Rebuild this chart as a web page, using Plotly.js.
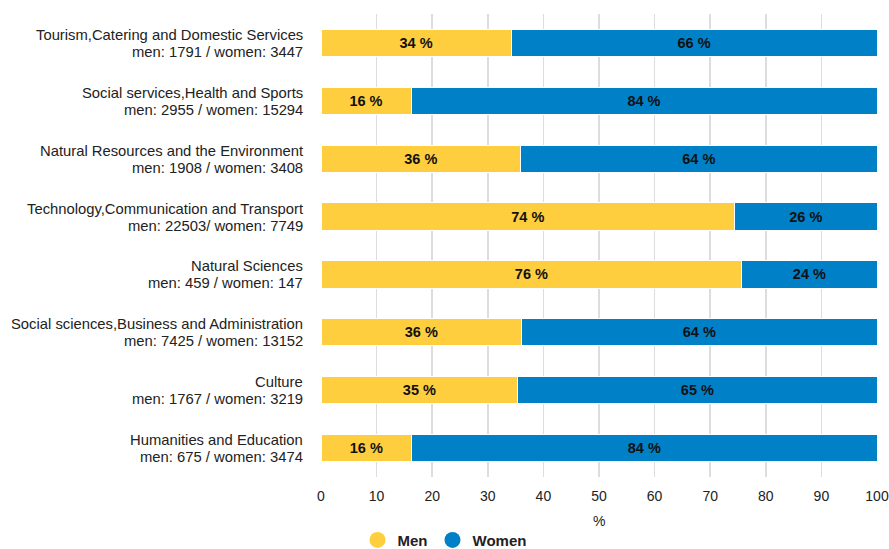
<!DOCTYPE html>
<html>
<head>
<meta charset="utf-8">
<script src="https://cdn.plot.ly/plotly-3.0.1.min.js"></script>
<style>html,body{margin:0;padding:0;background:#fff;}#chart{width:889px;height:549px;}</style>
</head>
<body>
<div id="chart"></div>
<script>
const categories = [
  "Tourism,Catering and Domestic Services",
  "Social services,Health and Sports",
  "Natural Resources and the Environment",
  "Technology,Communication and Transport",
  "Natural Sciences",
  "Social sciences,Business and Administration",
  "Culture",
  "Humanities and Education"
];
const countLabels = [
  "men: 1791 / women: 3447",
  "men: 2955 / women: 15294",
  "men: 1908 / women: 3408",
  "men: 22503/ women: 7749",
  "men: 459 / women: 147",
  "men: 7425 / women: 13152",
  "men: 1767 / women: 3219",
  "men: 675 / women: 3474"
];
const menPct = [34.2, 16.2, 35.9, 74.4, 75.7, 36.1, 35.4, 16.3];
const womenPct = [65.8, 83.8, 64.1, 25.6, 24.3, 63.9, 64.6, 83.7];
const xAxisTitle = "%";
const menColor = "#FECE3F";
const womenColor = "#0080C7";

const FONT = "Liberation Sans, Arial, sans-serif";
const TXT = "#222";

const barCommon = {
  type: "bar",
  orientation: "h",
  y: categories,
  texttemplate: "%{x:.0f} %",
  textposition: "inside",
  insidetextanchor: "middle",
  textfont: {family: FONT, size: 14.5, color: "#111", weight: "bold"},
  constraintext: "none",
  hoverinfo: "skip",
  showlegend: false
};

const data = [
  Object.assign({}, barCommon, {name: "Men", x: menPct, marker: {color: menColor, line: {color: "#fff", width: 1}}}),
  Object.assign({}, barCommon, {name: "Women", x: womenPct, marker: {color: womenColor, line: {color: "#fff", width: 1}}}),
  {type: "scatter", mode: "markers", x: [null], y: [null], name: "Men", marker: {color: menColor, size: 16, symbol: "circle"}, showlegend: true, hoverinfo: "skip"},
  {type: "scatter", mode: "markers", x: [null], y: [null], name: "Women", marker: {color: womenColor, size: 16, symbol: "circle"}, showlegend: true, hoverinfo: "skip"}
];

const annotations = [];
categories.forEach((c, i) => {
  annotations.push({xref: "paper", yref: "y", x: 0, y: c, xanchor: "right", yanchor: "middle",
    xshift: -16, yshift: 8, text: c, showarrow: false, align: "right",
    font: {family: FONT, size: 14.8, color: TXT}});
  annotations.push({xref: "paper", yref: "y", x: 0, y: c, xanchor: "right", yanchor: "middle",
    xshift: -16, yshift: -9, text: countLabels[i], showarrow: false, align: "right",
    font: {family: FONT, size: 14.8, color: TXT}});
});
annotations.push({xref: "paper", yref: "paper", x: 0.5, y: 0, xanchor: "center", yanchor: "middle",
  yshift: -44, text: xAxisTitle, showarrow: false, font: {family: FONT, size: 14, color: TXT}});

const layout = {
  width: 889, height: 549,
  margin: {l: 321, r: 12, t: 14, b: 72, pad: 0, autoexpand: false},
  barmode: "stack",
  bargap: 0.53,
  paper_bgcolor: "#fff",
  plot_bgcolor: "#fff",
  font: {family: FONT, size: 14, color: TXT},
  annotations: annotations,
  xaxis: {
    range: [0, 100], dtick: 10, tick0: 0,
    showgrid: true, gridcolor: "#dddddd", gridwidth: 1.5,
    zeroline: false, showline: false, automargin: false,
    ticks: "", ticklabelstandoff: 9,
    tickfont: {family: FONT, size: 14, color: TXT},
    fixedrange: true
  },
  yaxis: {
    type: "category",
    autorange: "reversed",
    showgrid: false, zeroline: false, showline: false, automargin: false,
    showticklabels: false, ticks: "",
    fixedrange: true
  },
  legend: {
    orientation: "h",
    traceorder: "normal",
    xref: "container", yref: "container",
    x: 0.5, xanchor: "center",
    y: 0.016, yanchor: "middle",
    font: {family: FONT, size: 15, color: TXT, weight: "bold"},
    itemwidth: 30
  },
  showlegend: true
};

Plotly.newPlot("chart", data, layout, {displayModeBar: false, staticPlot: true});
</script>
</body>
</html>
